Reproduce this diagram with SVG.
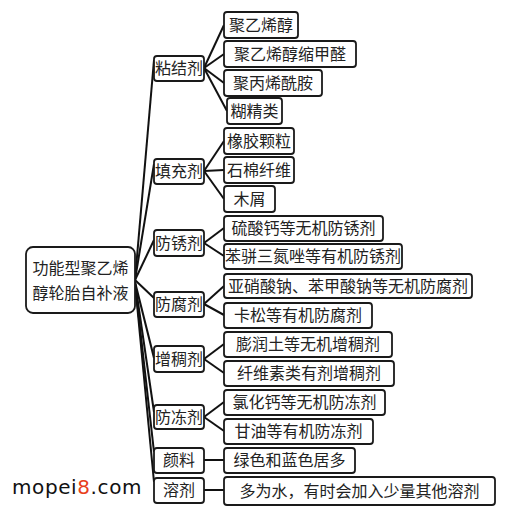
<svg xmlns="http://www.w3.org/2000/svg" width="523" height="510" viewBox="0 0 523 510">
<style>
rect.b{fill:#fff;stroke:#1a1a1a;stroke-width:1.8}
text{font-family:"Noto Sans CJK SC","Noto Sans",sans-serif;font-size:16px;fill:#222;text-anchor:middle}
.c line{stroke:#111;stroke-width:2;fill:none}
.wm{font-family:"DejaVu Sans",sans-serif;font-size:20px;text-anchor:start;fill:#111;letter-spacing:0.6px}
</style>
<rect width="523" height="510" fill="#fff"/>
<g class="c" id="connectors">
<line x1="135" y1="280" x2="154" y2="60"/>
<line x1="135" y1="280" x2="154" y2="164"/>
<line x1="135" y1="280" x2="154" y2="240"/>
<line x1="135" y1="280" x2="154" y2="298"/>
<line x1="135" y1="282" x2="154" y2="358"/>
<line x1="135" y1="282" x2="154" y2="412"/>
<line x1="135" y1="283" x2="154" y2="452"/>
<line x1="135" y1="283" x2="154" y2="482"/>
<line x1="204" y1="68" x2="224" y2="25"/>
<line x1="204" y1="68" x2="224" y2="54"/>
<line x1="204" y1="68" x2="224" y2="83"/>
<line x1="204" y1="68" x2="227" y2="111"/>
<line x1="204" y1="171" x2="224" y2="141"/>
<line x1="204" y1="171" x2="224" y2="170"/>
<line x1="204" y1="171" x2="224" y2="199"/>
<line x1="204" y1="243" x2="224" y2="228"/>
<line x1="204" y1="243" x2="224" y2="256"/>
<line x1="204" y1="304" x2="224" y2="286"/>
<line x1="204" y1="304" x2="224" y2="315"/>
<line x1="204" y1="359" x2="224" y2="344"/>
<line x1="204" y1="359" x2="224" y2="373"/>
<line x1="204" y1="417" x2="224" y2="402"/>
<line x1="204" y1="417" x2="224" y2="431"/>
<line x1="204" y1="460" x2="224" y2="460"/>
<line x1="204" y1="490" x2="224" y2="490"/>
</g>
<g id="root"><rect class="b" x="26" y="247" width="109" height="66" rx="7"/><text x="80.5" y="274">功能型聚乙烯</text><text x="80.5" y="299">醇轮胎自补液</text></g>
<g id="n1"><rect class="b" x="154" y="56" width="50" height="25" rx="3"/><text x="179" y="74">粘结剂</text></g>
<g id="n2"><rect class="b" x="154" y="159" width="50" height="25" rx="3"/><text x="179" y="177">填充剂</text></g>
<g id="n3"><rect class="b" x="154" y="230" width="50" height="26" rx="3"/><text x="179" y="249">防锈剂</text></g>
<g id="n4"><rect class="b" x="154" y="292" width="50" height="25" rx="3"/><text x="179" y="310">防腐剂</text></g>
<g id="n5"><rect class="b" x="154" y="346" width="50" height="26" rx="3"/><text x="179" y="365">增稠剂</text></g>
<g id="n6"><rect class="b" x="154" y="405" width="50" height="24" rx="3"/><text x="179" y="423">防冻剂</text></g>
<g id="n7"><rect class="b" x="154" y="448" width="50" height="25" rx="3"/><text x="179" y="466">颜料</text></g>
<g id="n8"><rect class="b" x="154" y="478" width="50" height="25" rx="3"/><text x="179" y="496">溶剂</text></g>
<g id="a1"><rect class="b" x="224" y="12" width="74" height="26" rx="3"/><text x="261" y="31">聚乙烯醇</text></g>
<g id="a2"><rect class="b" x="224" y="41" width="132" height="26" rx="3"/><text x="290" y="60">聚乙烯醇缩甲醛</text></g>
<g id="a3"><rect class="b" x="224" y="70" width="98" height="26" rx="3"/><text x="273" y="89">聚丙烯酰胺</text></g>
<g id="a4"><rect class="b" x="227" y="98" width="55" height="26" rx="3"/><text x="254.5" y="117">糊精类</text></g>
<g id="b1"><rect class="b" x="224" y="128" width="70" height="26" rx="3"/><text x="259" y="147">橡胶颗粒</text></g>
<g id="b2"><rect class="b" x="224" y="157" width="70" height="26" rx="3"/><text x="259" y="176">石棉纤维</text></g>
<g id="b3"><rect class="b" x="224" y="186" width="51" height="26" rx="3"/><text x="249.5" y="205">木屑</text></g>
<g id="c1"><rect class="b" x="224" y="216" width="159" height="25" rx="3"/><text x="303.5" y="234">硫酸钙等无机防锈剂</text></g>
<g id="c2"><rect class="b" x="224" y="244" width="178" height="25" rx="3"/><text x="313" y="262">苯骈三氮唑等有机防锈剂</text></g>
<g id="d1"><rect class="b" x="224" y="274" width="248" height="24" rx="3"/><text x="348" y="292">亚硝酸钠、苯甲酸钠等无机防腐剂</text></g>
<g id="d2"><rect class="b" x="224" y="303" width="148" height="25" rx="3"/><text x="298" y="321">卡松等有机防腐剂</text></g>
<g id="e1"><rect class="b" x="224" y="332" width="168" height="25" rx="3"/><text x="308" y="350">膨润土等无机增稠剂</text></g>
<g id="e2"><rect class="b" x="224" y="361" width="170" height="25" rx="3"/><text x="309" y="379">纤维素类有剂增稠剂</text></g>
<g id="f1"><rect class="b" x="224" y="390" width="161" height="25" rx="3"/><text x="304.5" y="408">氯化钙等无机防冻剂</text></g>
<g id="f2"><rect class="b" x="224" y="419" width="149" height="25" rx="3"/><text x="298.5" y="437">甘油等有机防冻剂</text></g>
<g id="g1"><rect class="b" x="224" y="448" width="131" height="25" rx="3"/><text x="289.5" y="466">绿色和蓝色居多</text></g>
<g id="h1"><rect class="b" x="224" y="477" width="271" height="28" rx="3"/><text x="359.5" y="497">多为水，有时会加入少量其他溶剂</text></g>
<text class="wm" x="12" y="494">mopei<tspan fill="#e8401c">8</tspan>.com</text>
</svg>
